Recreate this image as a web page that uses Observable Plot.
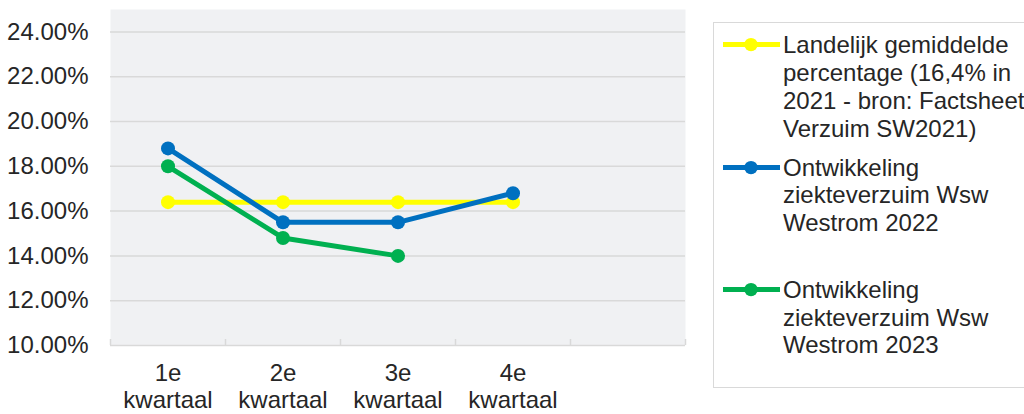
<!DOCTYPE html>
<html>
<head>
<meta charset="utf-8">
<script src="https://cdn.jsdelivr.net/npm/d3@7"></script>
<script src="https://cdn.jsdelivr.net/npm/@observablehq/plot@0.6"></script>
<style>
  html, body { margin: 0; padding: 0; background: #fff; overflow: hidden; }
  #wrap { position: relative; width: 1024px; height: 414px; font-family: "Liberation Sans", Arial, sans-serif; }
  #wrap svg.chart { position: absolute; left: 0; top: 0; }
  #legend { position: absolute; left: 713px; top: 22px; width: 340px; height: 366px; border: 1.5px solid #d9d9d9; box-sizing: border-box; }
  .item { position: absolute; left: 0; }
  .item svg { position: absolute; left: 9px; top: 0; }
  .item .lbl { position: absolute; left: 69px; top: 0; white-space: pre; font-size: 24px; line-height: 27.7px; color: #262626; }
</style>
</head>
<body>
<div id="wrap"></div>
<script>
const quarters = ["1e kwartaal", "2e kwartaal", "3e kwartaal", "4e kwartaal"];
const landelijk = [16.4, 16.4, 16.4, 16.4];
const westrom2022 = [18.8, 15.5, 15.5, 16.8];
const westrom2023 = [18.0, 14.8, 14.0];
const yTicks = [10, 12, 14, 16, 18, 20, 22, 24];
const seriesNames = ["Landelijk", "Westrom 2022", "Westrom 2023"];
const seriesColors = ["#ffff00", "#0070c0", "#00b050"];
const legendLines = [
  ["Landelijk gemiddelde", "percentage (16,4% in", "2021 - bron: Factsheet", "Verzuim SW2021)"],
  ["Ontwikkeling", "ziekteverzuim Wsw", "Westrom 2022"],
  ["Ontwikkeling", "ziekteverzuim Wsw", "Westrom 2023"]
];

const seriesValues = [landelijk, westrom2022, westrom2023];
const data = seriesValues.flatMap((vals, s) =>
  vals.map((v, i) => ({series: seriesNames[s], q: i + 1, value: v})));
const boundaries = d3.range(0.5, 6, 1);

const lineMarks = seriesNames.flatMap((name, s) => {
  const d = data.filter(r => r.series === name);
  return [
    Plot.line(d, {x: "q", y: "value", stroke: seriesColors[s], strokeWidth: 5}),
    Plot.dot(d, {x: "q", y: "value", fill: seriesColors[s], r: 7})
  ];
});

const chart = Plot.plot({
  width: 1024,
  height: 414,
  marginLeft: 110,
  marginRight: 339,
  marginTop: 9,
  marginBottom: 69,
  style: {fontFamily: "'Liberation Sans', Arial, sans-serif", color: "#262626", background: "transparent"},
  x: {type: "linear", domain: [0.5, 5.5]},
  y: {domain: [10, 25]},
  marks: [
    Plot.frame({fill: "#f0f1f3", stroke: "none"}),
    Plot.gridY(yTicks.filter(t => t > 10), {stroke: "#d9d9d9", strokeOpacity: 1, strokeWidth: 1.5}),
    Plot.ruleY([10], {stroke: "#d9d9d9", strokeWidth: 1.5}),
    Plot.tickX(boundaries, {x: d => d, stroke: "#d9d9d9", strokeWidth: 1.5, insetTop: 330}),
    Plot.axisY(yTicks, {tickSize: 0, tickPadding: 22, fontSize: 24, fill: "#262626", tickFormat: d => d.toFixed(2) + "%", label: null}),
    Plot.axisX([1, 2, 3, 4], {tickSize: 0, tickPadding: 17, fontSize: 24, fill: "#262626", lineHeight: 1.1, tickFormat: i => quarters[i - 1].replace(" ", "\n"), label: null}),
    ...lineMarks
  ]
});
chart.classList.add("chart");
const wrap = document.getElementById("wrap");
wrap.appendChild(chart);

const legend = document.createElement("div");
legend.id = "legend";
seriesNames.forEach((name, s) => {
  const item = document.createElement("div");
  item.className = "item";
  item.style.top = (8.4 + s * 122.3) + "px";
  item.innerHTML =
    `<svg width="60" height="28"><line x1="0" x2="57" y1="13.6" y2="13.6" stroke="${seriesColors[s]}" stroke-width="5"/>` +
    `<circle cx="28" cy="13.6" r="6.7" fill="${seriesColors[s]}"/></svg>` +
    `<div class="lbl">${legendLines[s].join("\n")}</div>`;
  legend.appendChild(item);
});
wrap.appendChild(legend);
</script>
</body>
</html>
